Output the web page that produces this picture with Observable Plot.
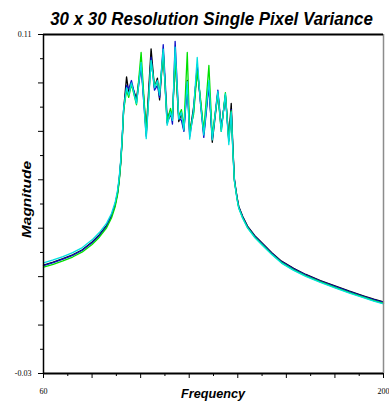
<!DOCTYPE html>
<html>
<head>
<meta charset="utf-8">
<script src="https://cdn.jsdelivr.net/npm/d3@7"></script>
<script src="https://cdn.jsdelivr.net/npm/@observablehq/plot@0.6"></script>
<style>
  html, body { margin: 0; padding: 0; background: #fff; }
</style>
</head>
<body>
<div id="chart"></div>
<script>
const title = "30 x 30 Resolution Single Pixel Variance";
const xLabel = "Frequency";
const yLabel = "Magnitude";

const freq = [60, 64, 68, 72, 76, 80, 83, 86, 88, 89.5, 90.5, 91.2, 91.8, 92.4, 93,
  94.2, 95.1, 96.2, 98.3, 100.2, 102.3, 104.3, 105.7, 106.9, 107.8, 109.3, 110.9, 112.3, 113.1, 114.2,
  115.7, 116.8, 117.8, 119.2, 120.2, 121.8, 123.3, 124.6, 126, 128.1, 129.5, 131.8, 133.2, 134.9, 136.3,
  137.3, 138.0, 138.6, 139.1, 139.7,
  140.4, 142, 144, 147, 150, 154, 158, 163, 168, 174, 180, 186, 192, 196, 200];

const black = [0.0148, 0.0160, 0.0174, 0.0190, 0.0211, 0.0243, 0.0273, 0.0312, 0.0352, 0.0398, 0.0448, 0.0505, 0.0575, 0.0670, 0.0790,
  0.0925, 0.0860, 0.0895, 0.0835, 0.0980, 0.0700, 0.1041, 0.0880, 0.0920, 0.0830, 0.1030, 0.0735, 0.0770, 0.0750, 0.1010,
  0.0740, 0.0775, 0.0705, 0.0910, 0.0690, 0.0800, 0.0960, 0.0830, 0.0690, 0.0900, 0.0655, 0.0860, 0.0710, 0.0850, 0.0670,
  0.0815, 0.0630, 0.0505, 0.0468, 0.0428,
  0.0390, 0.0349, 0.0309, 0.0269, 0.0239, 0.0199, 0.0164, 0.0134, 0.0109, 0.0084, 0.0062, 0.0040, 0.0020, 0.0007, -0.0004];

const blue = [0.0146, 0.0158, 0.0172, 0.0188, 0.0209, 0.0240, 0.0270, 0.0309, 0.0350, 0.0396, 0.0445, 0.0502, 0.0572, 0.0668, 0.0790,
  0.0890, 0.0875, 0.0910, 0.0820, 0.0970, 0.0680, 0.1006, 0.0870, 0.0890, 0.0840, 0.1058, 0.0760, 0.0780, 0.0730, 0.1072,
  0.0755, 0.0745, 0.0700, 0.0890, 0.0680, 0.0780, 0.0975, 0.0820, 0.0675, 0.0890, 0.0670, 0.0870, 0.0715, 0.0845, 0.0660,
  0.0790, 0.0620, 0.0500, 0.0465, 0.0425,
  0.0388, 0.0347, 0.0307, 0.0267, 0.0237, 0.0197, 0.0162, 0.0132, 0.0107, 0.0082, 0.0060, 0.0038, 0.0018, 0.0005, -0.0006];

const green = [0.0139, 0.0151, 0.0165, 0.0181, 0.0202, 0.0233, 0.0263, 0.0302, 0.0342, 0.0388, 0.0438, 0.0495, 0.0565, 0.0660, 0.0785,
  0.0870, 0.0840, 0.0895, 0.0810, 0.1026, 0.0690, 0.0990, 0.0890, 0.0900, 0.0860, 0.1025, 0.0745, 0.0795, 0.0760, 0.1000,
  0.0760, 0.0790, 0.0715, 0.1026, 0.0700, 0.0770, 0.0950, 0.0840, 0.0700, 0.0972, 0.0680, 0.0855, 0.0700, 0.0860, 0.0660,
  0.0785, 0.0615, 0.0495, 0.0462, 0.0421,
  0.0384, 0.0343, 0.0303, 0.0263, 0.0233, 0.0193, 0.0158, 0.0128, 0.0103, 0.0078, 0.0056, 0.0034, 0.0014, 0.0001, -0.0010];

const cyan = [0.0157, 0.0169, 0.0183, 0.0199, 0.0220, 0.0252, 0.0282, 0.0321, 0.0361, 0.0407, 0.0457, 0.0512, 0.0582, 0.0675, 0.0795,
  0.0880, 0.0850, 0.0900, 0.0815, 0.0985, 0.0670, 0.0993, 0.0880, 0.0910, 0.0850, 0.1040, 0.0725, 0.0780, 0.0745, 0.1048,
  0.0750, 0.0780, 0.0705, 0.0905, 0.0668, 0.0790, 0.1005, 0.0820, 0.0685, 0.0910, 0.0665, 0.0865, 0.0700, 0.0855, 0.0645,
  0.0780, 0.0610, 0.0495, 0.0460, 0.0419,
  0.0382, 0.0341, 0.0301, 0.0261, 0.0231, 0.0191, 0.0156, 0.0126, 0.0101, 0.0076, 0.0054, 0.0032, 0.0012, -0.0001, -0.0012];

const seriesNames = ["black", "blue", "green", "cyan"];
const seriesColors = ["#000000", "#1010c8", "#00e000", "#00e0e0"];
const seriesValues = [black, blue, green, cyan];

const xMajor = [60, 80, 100, 120, 140, 160, 180, 200];
const xMinor = [70, 90, 110, 130, 150, 170, 190];
const xLabels = [60, 200];
const yMajor = [-0.03, -0.01, 0.01, 0.03, 0.05, 0.07, 0.09, 0.11];
const yMinor = [-0.02, 0.00, 0.02, 0.04, 0.06, 0.08, 0.10];
const yLabels = [-0.03, 0.11];

const rows = seriesNames.map((s, i) => freq.map((f, j) => ({s, f, v: seriesValues[i][j]})));

const blank = () => "";

const chart = Plot.plot({
  width: 389,
  height: 405,
  marginLeft: 43,
  marginRight: 6,
  marginTop: 34,
  marginBottom: 32,
  style: {fontFamily: "'Liberation Serif', 'Times New Roman', serif", background: "#fff", color: "#000"},
  x: {domain: [60, 200]},
  y: {domain: [-0.03, 0.11]},
  marks: [
    Plot.axisX({ticks: xMinor, tickSize: 3, tickFormat: blank, label: null}),
    Plot.axisX({ticks: xMajor, tickSize: 5, tickFormat: blank, label: null}),
    Plot.axisX({ticks: xLabels, tickSize: 0, tickPadding: 15, fontSize: 8, tickFormat: d => String(d), label: null}),
    Plot.axisY({ticks: yMinor, tickSize: 3, tickFormat: blank, label: null}),
    Plot.axisY({ticks: yMajor, tickSize: 5, tickFormat: blank, label: null}),
    Plot.axisY({ticks: yLabels, tickSize: 0, tickPadding: 12, fontSize: 8, tickFormat: d => d.toFixed(2), label: null}),
    ...rows.map((r, i) => Plot.line(r, {x: "f", y: "v", stroke: seriesColors[i], strokeWidth: 1.3})),
    Plot.ruleX([200], {stroke: "#8c8c8c", strokeWidth: 1.5}),
    Plot.ruleY([0.11], {stroke: "#000", strokeWidth: 2}),
    Plot.ruleX([60], {stroke: "#000", strokeWidth: 1.5}),
    Plot.ruleY([-0.03], {stroke: "#000", strokeWidth: 2})
  ]
});

document.getElementById("chart").appendChild(chart);

// Titles: bold italic, horizontally condensed like the reference lettering
function addLabel(txt, cx, baseY, rotate, size, targetLen, sy) {
  const t = d3.select(chart).append("text")
    .attr("text-anchor", "middle")
    .attr("font-family", "'Liberation Sans', Arial, sans-serif")
    .attr("font-weight", "bold")
    .attr("font-style", "italic")
    .attr("font-size", size)
    .attr("fill", "#000")
    .text(txt);
  const natural = t.node().getComputedTextLength() || targetLen;
  const sx = targetLen / natural;
  t.attr("transform", `translate(${cx},${baseY}) rotate(${rotate}) scale(${sx},${sy})`);
}
addLabel(title, 211.5, 25, 0, 17, 323, 1.12);
addLabel(xLabel, 213, 398, 0, 13, 64, 1.05);
addLabel(yLabel, 31, 199.5, -90, 13, 77, 1.05);
</script>
</body>
</html>
